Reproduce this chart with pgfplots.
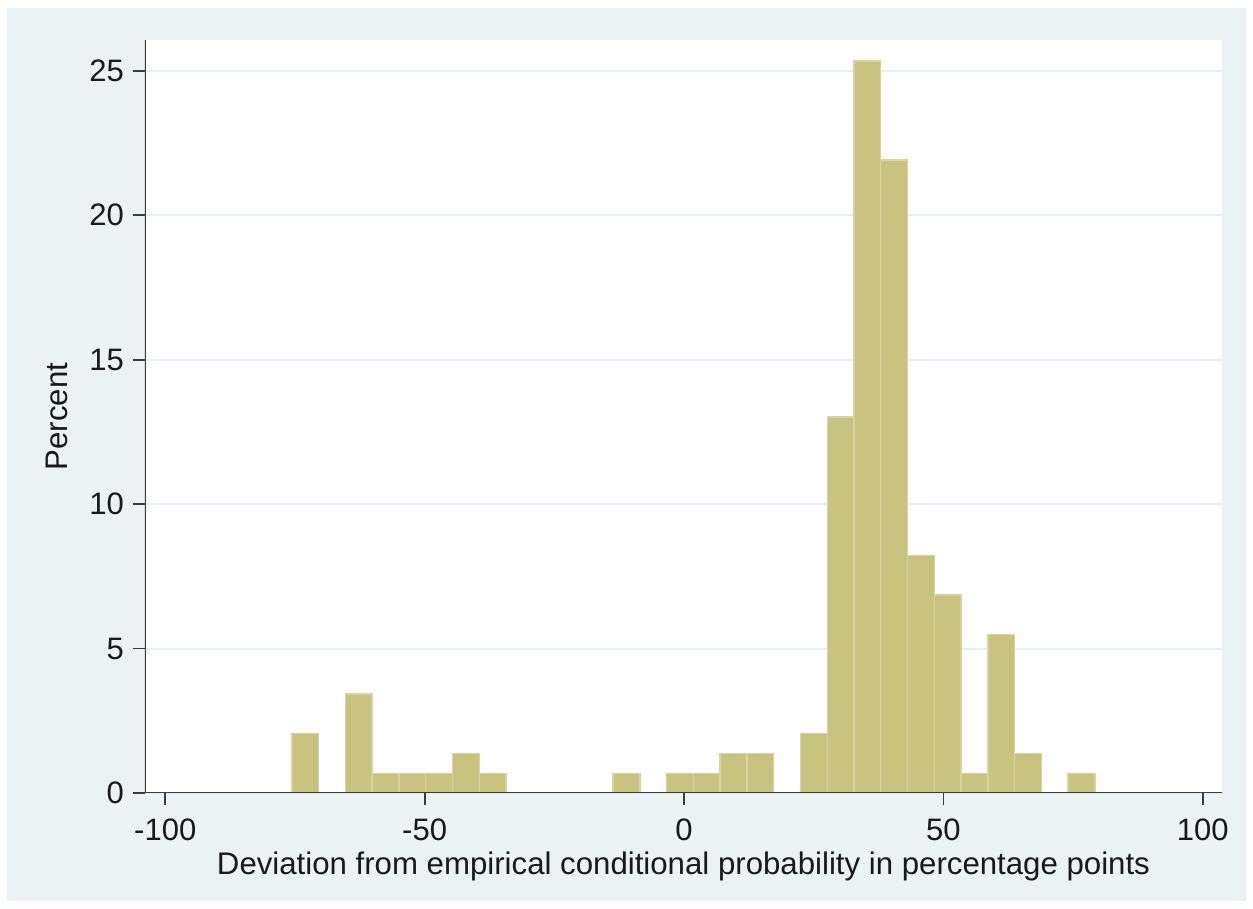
\documentclass[border=0pt]{standalone}
\usepackage{pgfplots}
\pgfplotsset{compat=1.18}
\usepackage{fontspec}
\setmainfont{Liberation Sans}
\definecolor{bgc}{RGB}{234,242,243}
\definecolor{gridc}{RGB}{230,239,241}
\definecolor{barc}{RGB}{201,195,128}
\definecolor{barl}{RGB}{216,211,160}
\definecolor{axc}{RGB}{60,60,60}
\begin{document}
\begin{tikzpicture}
\fill[bgc] (-69pt,-54pt) rectangle (550.5pt,392.5pt);
\path[use as bounding box] (-72.5pt,-58pt) rectangle (554pt,396.5pt);
\begin{axis}[
  at={(0,0)}, anchor=south west,
  scale only axis, width=538.5pt, height=376.5pt,
  xmin=-103.9, xmax=103.7, ymin=0, ymax=26.07,
  axis x line*=bottom, axis y line*=left,
  axis line style={draw=none},
  axis background/.style={fill=white},
  xtick={-100,-50,0,50,100},
  ytick={0,5,10,15,20,25},
  ymajorgrids, grid style={gridc, line width=1pt},
  tick align=outside, major tick length=6pt,
  tick style={axc, line width=0.9pt},
  /pgf/number format/assume math mode=true,
  ticklabel style={font=\fontsize{15.5}{18}\selectfont, text=black!90},
  yticklabel style={xshift=-1pt},
  xticklabel style={yshift=-3.5pt},
  xlabel={Deviation from empirical conditional probability in percentage points},
  ylabel={Percent},
  label style={font=\fontsize{15.6}{18}\selectfont, text=black!90},
  xlabel style={yshift=1.5pt},
  ylabel style={yshift=4pt},
]
\addplot[ybar interval, fill=barc, draw=barl, line width=0.7pt] coordinates {
(-75.60,2.055) (-70.44,0) (-65.28,3.425) (-60.12,0.685) (-54.96,0.685)
(-49.80,0.685) (-44.64,1.370) (-39.48,0.685) (-34.32,0) (-29.16,0)
(-24.00,0) (-18.84,0) (-13.68,0.685) (-8.52,0) (-3.36,0.685)
(1.80,0.685) (6.96,1.370) (12.12,1.370) (17.28,0) (22.44,2.055)
(27.60,13.014) (32.76,25.342) (37.92,21.918) (43.08,8.219) (48.24,6.849)
(53.40,0.685) (58.56,5.479) (63.72,1.370) (68.88,0) (74.04,0.685)
(79.20,0.685)
};
\draw[axc, line width=1pt] (rel axis cs:0,1) -- (rel axis cs:0,0) -- (rel axis cs:1,0);
\end{axis}
\end{tikzpicture}
\end{document}
